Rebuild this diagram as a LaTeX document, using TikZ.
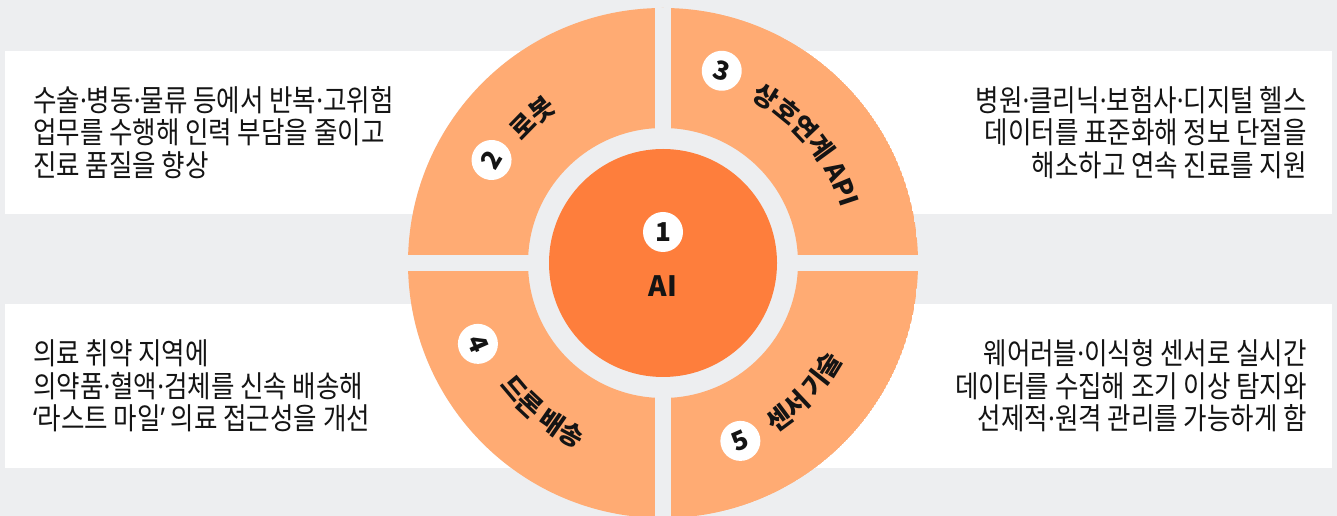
\documentclass[tikz,border=0pt]{standalone}
\usepackage{fontspec}
\usetikzlibrary{decorations.text,calc}

% Body copy: condensed Korean sans; labels: regular width
\newfontfamily\kr[FakeStretch=0.85]{Noto Sans CJK KR}
\newfontfamily\krl{Noto Sans CJK KR}
% narrow Latin punctuation (middle dot, single quotes)
\newfontfamily\latinpunct[FakeStretch=0.85]{Noto Sans}
\newcommand\mdot{{\latinpunct ·}}
\newcommand\openq{{\latinpunct ‘}}
\newcommand\closeq{{\latinpunct ’}}

\definecolor{pagebg}{HTML}{EDEEF0}
\definecolor{ringorange}{HTML}{FFAB73}
\definecolor{coreorange}{HTML}{FE7E3C}
\definecolor{ink}{HTML}{141414}

\newcommand\arclabelfont{\krl\bfseries\fontsize{26}{26}\selectfont}

\begin{document}
\begin{tikzpicture}[x=1pt,y=1pt,
  infobox/.style={fill=white, draw=none},
  bodytext/.style={font=\kr\fontsize{30}{32.5}\selectfont, text=ink, inner sep=0pt},
  numdisc/.style={circle, fill=white, minimum size=40pt, inner sep=0pt,
                  font=\krl\bfseries\fontsize{26}{26}\selectfont, text=ink},
  toparc/.style={decorate, decoration={text along path, text align=center,
                  text color=ink, text={|\arclabelfont|#1}}},
]
\useasboundingbox (0,0) rectangle (1337,516);
\fill[pagebg] (0,0) rectangle (1337,516);

% description panels
\fill[infobox] (5,302) rectangle (663,465);
\fill[infobox] (663,302) rectangle (1332,465);
\fill[infobox] (5,48) rectangle (663,212);
\fill[infobox] (663,48) rectangle (1332,212);

% ring of four quadrants around the core
\coordinate (c) at (663,253);
\begin{scope}
  \clip (c) circle[radius=255];
  \fill[pagebg] (c) circle[radius=255];
  \fill[ringorange, even odd rule] (c) circle[radius=255] (c) circle[radius=135];
  \fill[pagebg] ($(c)+(-8,-300)$) rectangle ($(c)+(8,300)$);
  \fill[pagebg] ($(c)+(-300,-8)$) rectangle ($(c)+(300,8)$);
\end{scope}
\fill[coreorange] (c) circle[radius=114];

% core
\node[numdisc] (n1) at ($(c)+(0,31)$) {1};
\node[font=\krl\bfseries\fontsize{28}{28}\selectfont, text=ink, inner sep=0pt] (ai) at ($(c)+(0,-23)$) {AI};

% quadrant numbers
\node[numdisc, rotate=59] (n2) at ($(c)+(149:200)$) {2};
\node[numdisc, rotate=-17] (n3) at ($(c)+(73:201)$) {3};
\node[numdisc, rotate=-66.4] (n4) at ($(c)+(203.6:202)$) {4};
\node[numdisc, rotate=23.5] (n5) at ($(c)+(293.5:194)$) {5};

% quadrant titles set along the ring
\path[toparc=로봇] ($(c)+(162:186)$) arc[start angle=162, end angle=102, radius=186];
\path[toparc=상호연계 API] ($(c)+(80:186)$) arc[start angle=80, end angle=-1, radius=186];
\path[toparc=드론 배송] ($(c)+(191:204)$) arc[start angle=191, end angle=271, radius=204];
\path[toparc=센서 기술] ($(c)+(277.5:204)$) arc[start angle=277.5, end angle=357.5, radius=204];

% descriptions
\node[bodytext, anchor=west, align=left] (robotdesc) at (33,383.5)
  {수술\mdot 병동\mdot 물류 등에서 반복\mdot 고위험\\업무를 수행해 인력 부담을 줄이고\\진료 품질을 향상};
\node[bodytext, anchor=east, align=right] (apidesc) at (1307,383.5)
  {병원\mdot 클리닉\mdot 보험사\mdot 디지털 헬스\\데이터를 표준화해 정보 단절을\\해소하고 연속 진료를 지원};
\node[bodytext, anchor=west, align=left] (dronedesc) at (33,130)
  {의료 취약 지역에\\의약품\mdot 혈액\mdot 검체를 신속 배송해\\\openq 라스트 마일\closeq{} 의료 접근성을 개선};
\node[bodytext, anchor=east, align=right] (sensordesc) at (1307,130)
  {웨어러블\mdot 이식형 센서로 실시간\\데이터를 수집해 조기 이상 탐지와\\선제적\mdot 원격 관리를 가능하게 함};
\end{tikzpicture}
\end{document}
